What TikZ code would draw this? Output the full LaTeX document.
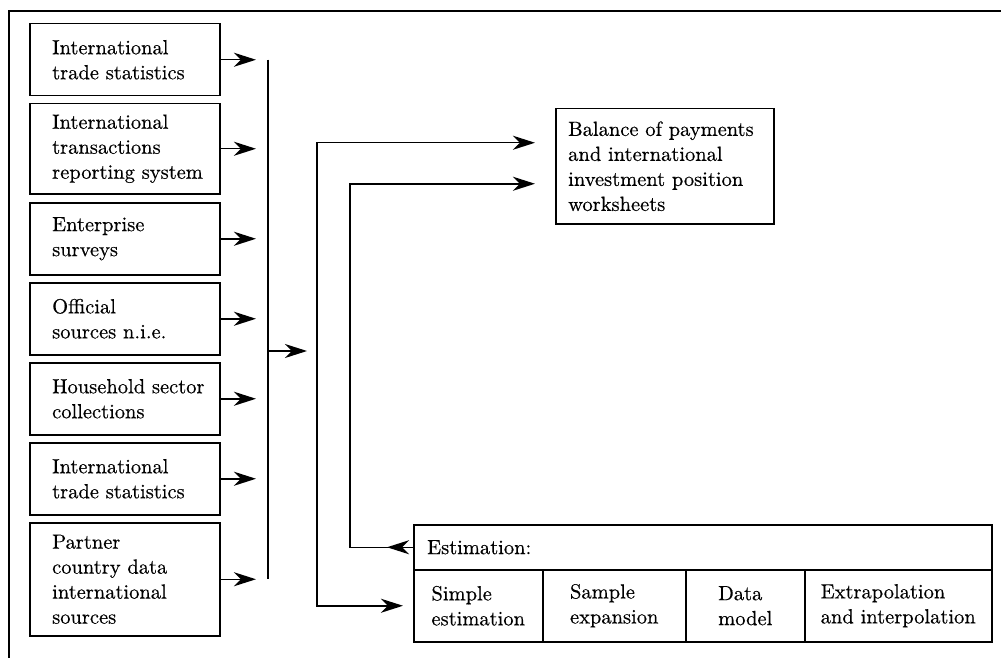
\documentclass[tikz,border=0pt]{standalone}
\usepackage{fontspec}
\setmainfont{lmroman10-regular.otf}[UprightFeatures={FakeBold=0.4}]
\usetikzlibrary{arrows.meta}
\begin{document}
\begin{tikzpicture}[x=1pt,y=-1pt,
  font=\fontsize{20.5}{25}\selectfont,
  >={Stealth[length=22pt,width=14pt,inset=7pt]},
  box/.style={draw, line width=1.5pt, inner sep=0pt, anchor=north west},
  ln/.style={line width=1.5pt},
  lab/.style={anchor=west, align=left, inner sep=0pt}]
\fill[white] (0,0) rectangle (1001,658);
\useasboundingbox (0,0) rectangle (1001,658);
% outer frame (top and left edges)
\draw[line width=2pt] (9,658) -- (9,11) -- (1001,11);
% source boxes
\node[box, minimum width=190pt, minimum height=72pt,
  label={[lab, xshift=23pt]west:{International\\trade statistics}}] (s1) at (29,23) {};
\node[box, minimum width=190pt, minimum height=90pt,
  label={[lab, xshift=23pt]west:{International\\transactions\\reporting system}}] (s2) at (29,103) {};
\node[box, minimum width=190pt, minimum height=72pt,
  label={[lab, xshift=23pt]west:{Enterprise\\surveys}}] (s3) at (29,202) {};
\node[box, minimum width=190pt, minimum height=72pt,
  label={[lab, xshift=23pt]west:{Official\\sources n.i.e.}}] (s4) at (29,282) {};
\node[box, minimum width=190pt, minimum height=72pt,
  label={[lab, xshift=23pt]west:{Household sector\\collections}}] (s5) at (29,362) {};
\node[box, minimum width=190pt, minimum height=72pt,
  label={[lab, xshift=23pt]west:{International\\trade statistics}}] (s6) at (29,442) {};
\node[box, minimum width=190pt, minimum height=113pt,
  label={[lab, xshift=23pt]west:{Partner\\country data\\international\\sources}}] (s7) at (29,522) {};
% balance of payments box
\node[box, minimum width=218pt, minimum height=115pt,
  label={[lab, xshift=13pt]west:{Balance of payments\\and international\\investment position\\worksheets}}] (bop) at (555,108) {};
% estimation box
\node[box, minimum width=578pt, minimum height=45pt,
  label={[lab, xshift=14pt]west:{Estimation:}}] (est) at (413,524) {};
\node[box, align=left, minimum width=129pt, minimum height=72pt] (c1) at (413,569) {Simple\\estimation};
\node[box, align=left, minimum width=143pt, minimum height=72pt] (c2) at (542,569) {Sample\\expansion};
\node[box, align=left, minimum width=119pt, minimum height=72pt] (c3) at (685,569) {Data\\model};
\node[box, align=left, minimum width=187pt, minimum height=72pt] (c4) at (804,569) {Extrapolation\\and interpolation};
% helper coordinates
\coordinate (tip) at (256,0);
\coordinate (bar) at (268,0);
\coordinate (mid) at (268,351);
\coordinate (midtip) at (307,351);
\coordinate (ra) at (317,0);
\coordinate (rb) at (350,0);
% source arrows and collecting bar
\foreach \s in {s1,s2,s3,s4,s5,s6,s7}
  \draw[ln,->] (\s.east) -- (\s.east -| tip);
\draw[ln] (bar |- s1.east) -- (bar |- s7.east);
\draw[ln,->] (mid) -- (midtip);
% route between estimation cells and worksheets
\draw[ln,<->, shorten <=20pt, shorten >=10pt] ([yshift=23.5pt]bop.west) -| (ra |- c1.west) -- (c1.west);
\draw[ln,->, shorten >=20pt] (est.west) -- (est.west -| rb) |- ([yshift=-17.5pt]bop.west);
\draw[ln,->] (est.west) -- ++(-26,0);
\end{tikzpicture}
\end{document}
